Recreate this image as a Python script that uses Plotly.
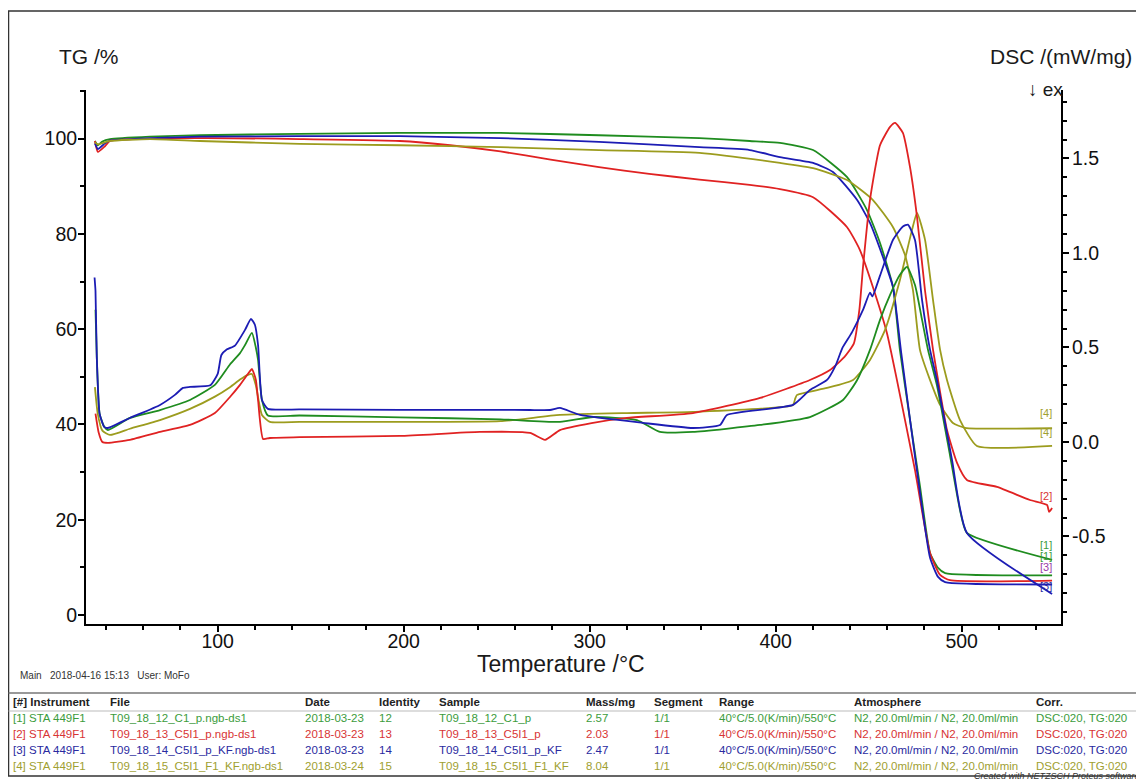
import plotly.graph_objects as go

# ---------------- data ----------------
tg_green_T = [34.0, 35.6, 38.0, 42.1, 63.6, 90.5, 144, 198, 252, 305, 359, 386, 402.3, 420.1, 438.4, 449.1, 456.1, 463.1, 466.8, 472.2, 477.6, 483.0, 487.3, 491.1, 548.6]
tg_green = [99.5, 98.6, 99.4, 99.9, 100.4, 100.7, 101.0, 101.2, 101.2, 100.7, 100.1, 99.5, 99.1, 97.6, 91.9, 85.0, 78.1, 68.8, 55.6, 41.0, 27.0, 13.0, 9.9, 8.8, 8.3]

tg_red_T = [34.0, 35.6, 39.4, 42.1, 90.0, 144, 198, 225, 252, 279, 305, 332, 359, 386, 402.3, 420.1, 438.4, 445.3, 452.3, 459.8, 465.2, 474.9, 483.0, 488.4, 493.7, 548.6]
tg_red = [99.5, 97.2, 98.4, 99.5, 100.1, 99.9, 99.5, 98.6, 97.3, 95.6, 94.0, 92.6, 91.4, 90.3, 89.4, 87.7, 81.4, 76.6, 68.8, 59.2, 49.3, 30.4, 13.0, 8.4, 7.3, 7.2]

tg_blue_T = [34.0, 35.6, 39.4, 42.1, 63.6, 90.5, 144, 198, 252, 305, 359, 386, 402.3, 420.1, 430.8, 443.8, 450.7, 457.7, 463.1, 467.5, 475.0, 483.0, 487.3, 491.1, 548.6]
tg_blue = [99.0, 97.8, 99.0, 99.6, 100.1, 100.4, 100.5, 100.5, 100.1, 99.3, 98.2, 97.6, 96.1, 94.9, 93.0, 87.1, 82.3, 75.1, 68.8, 55.0, 33.0, 12.0, 8.0, 6.9, 6.4]

tg_olive_T = [34.0, 35.6, 42.1, 63.6, 90.5, 144, 198, 252, 305, 359, 402.3, 420.1, 438.4, 452.3, 463.1, 469.5, 473.8, 477.6, 483.0, 488.4, 495.3, 501.8, 548.6]
tg_olive = [99.2, 98.8, 99.5, 99.9, 99.5, 98.9, 98.6, 98.2, 97.6, 97.0, 94.9, 93.8, 91.3, 87.1, 81.4, 75.6, 68.2, 55.6, 49.3, 44.1, 40.3, 39.3, 39.2]

dsc_green_T = [34.3, 35.0, 36.5, 39.0, 41.0, 52.8, 69.0, 85.1, 98.5, 106.6, 112.0, 114.7, 118.4, 120.5, 121.7, 123.8, 127.0, 144, 198, 252, 284.0, 301.8, 325.4, 337.8, 355.5, 391.6, 418.4, 436.2, 443.8, 450.7, 456.1, 461.5, 466.8, 470.6, 474.9, 478.7, 481.9, 486.7, 493.7, 499.1, 502.8, 548.6]
dsc_green = [0.70, 0.45, 0.15, 0.08, 0.063, 0.127, 0.169, 0.222, 0.302, 0.410, 0.470, 0.513, 0.577, 0.500, 0.434, 0.222, 0.140, 0.140, 0.130, 0.120, 0.106, 0.132, 0.116, 0.053, 0.053, 0.090, 0.132, 0.222, 0.328, 0.487, 0.646, 0.778, 0.884, 0.926, 0.830, 0.646, 0.487, 0.300, -0.069, -0.360, -0.481, -0.624]

dsc_red_T = [34.3, 36.0, 38.0, 41.0, 52.8, 69.0, 85.1, 98.5, 106.6, 112.0, 117.0, 118.4, 120.5, 121.7, 124.4, 128.0, 144, 198, 241, 267.9, 276.0, 284.0, 301.0, 320.0, 355.5, 391.6, 418.4, 429.2, 437.0, 442.0, 445.0, 447.0, 450.7, 456.1, 461.5, 464.2, 468.4, 472.2, 476.0, 480.3, 484.6, 487.3, 492.1, 497.5, 502.8, 519.0, 536.7, 545.9, 547.0, 548.6]
dsc_red = [0.15, 0.05, 0.0, -0.005, 0.011, 0.053, 0.090, 0.153, 0.238, 0.302, 0.370, 0.386, 0.330, 0.222, 0.016, 0.021, 0.026, 0.032, 0.053, 0.048, 0.011, 0.063, 0.100, 0.127, 0.153, 0.233, 0.328, 0.381, 0.450, 0.520, 0.700, 0.930, 1.280, 1.570, 1.667, 1.688, 1.635, 1.455, 1.190, 0.800, 0.487, 0.328, 0.063, -0.111, -0.201, -0.238, -0.307, -0.333, -0.370, -0.349]

dsc_blue_T = [33.8, 34.3, 35.0, 36.5, 39.0, 41.0, 52.8, 69.0, 77.0, 81.3, 85.1, 96.0, 100.0, 102.0, 105.0, 109.3, 114.7, 117.9, 120.0, 121.7, 123.8, 127.0, 144, 198, 252, 267.9, 278.7, 284.0, 294.8, 328.6, 355.5, 370.1, 373.8, 409.3, 418.4, 427.6, 432.0, 436.0, 441.0, 447.0, 450.7, 452.0, 456.1, 463.1, 468.4, 471.1, 474.9, 478.7, 483.0, 486.7, 494.8, 502.8, 548.6]
dsc_blue = [0.87, 0.80, 0.45, 0.15, 0.08, 0.074, 0.127, 0.196, 0.249, 0.286, 0.291, 0.300, 0.360, 0.460, 0.490, 0.510, 0.593, 0.651, 0.620, 0.513, 0.222, 0.175, 0.172, 0.170, 0.170, 0.169, 0.169, 0.180, 0.143, 0.101, 0.074, 0.090, 0.143, 0.196, 0.275, 0.328, 0.400, 0.500, 0.580, 0.700, 0.790, 0.770, 0.880, 1.070, 1.140, 1.150, 1.069, 0.751, 0.487, 0.328, -0.095, -0.481, -0.804]

dsc_olive_T = [34.0, 35.5, 38.0, 42.1, 52.8, 69.0, 85.1, 98.5, 106.6, 112.0, 116.0, 118.4, 120.5, 123.8, 128.1, 144, 198, 252, 284.0, 320.0, 355.5, 409.3, 410.5, 411.5, 427.6, 441.6, 450.7, 458.8, 466.8, 473.3, 476.0, 480.3, 484.6, 488.4, 492.1, 499.1, 508.2, 548.6]
dsc_olive = [0.29, 0.15, 0.06, 0.037, 0.07, 0.116, 0.175, 0.240, 0.290, 0.330, 0.354, 0.360, 0.300, 0.143, 0.106, 0.106, 0.106, 0.110, 0.143, 0.153, 0.159, 0.196, 0.230, 0.249, 0.286, 0.328, 0.434, 0.593, 0.857, 1.122, 1.212, 1.069, 0.751, 0.487, 0.328, 0.116, -0.021, -0.021]

tg_ticks = [0, 20, 40, 60, 80, 100]
dsc_ticks = [-0.5, 0.0, 0.5, 1.0, 1.5]
dsc_tick_text = ["-0.5", "0.0", "0.5", "1.0", "1.5"]
t_ticks = [100, 200, 300, 400, 500]

end_labels = ["[4]", "[4]", "[2]", "[1]", "[1]", "[3]", "[3]"]
end_label_tg = [42.4, 38.5, 24.9, 14.6, 12.3, 10.0, 6.0]

# table contents
tbl_header = ["[#] Instrument", "File", "Date", "Identity", "Sample", "Mass/mg", "Segment", "Range", "Atmosphere", "Corr."]
tbl_instrument = ["[1] STA 449F1", "[2] STA 449F1", "[3] STA 449F1", "[4] STA 449F1"]
tbl_file = ["T09_18_12_C1_p.ngb-ds1", "T09_18_13_C5I1_p.ngb-ds1", "T09_18_14_C5I1_p_KF.ngb-ds1", "T09_18_15_C5I1_F1_KF.ngb-ds1"]
tbl_date = ["2018-03-23", "2018-03-23", "2018-03-23", "2018-03-24"]
tbl_identity = ["12", "13", "14", "15"]
tbl_sample = ["T09_18_12_C1_p", "T09_18_13_C5I1_p", "T09_18_14_C5I1_p_KF", "T09_18_15_C5I1_F1_KF"]
tbl_mass = ["2.57", "2.03", "2.47", "8.04"]
tbl_segment = ["1/1", "1/1", "1/1", "1/1"]
tbl_range = ["40°C/5.0(K/min)/550°C"] * 4
tbl_atmos = ["N2, 20.0ml/min / N2, 20.0ml/min"] * 4
tbl_corr = ["DSC:020, TG:020"] * 4

# ---------------- styling ----------------
GREEN = "#1f8c1f"
RED = "#e02222"
BLUE = "#1c1cb4"
OLIVE = "#9c9c1e"
TXT_GREEN = "#3c9c3c"
TXT_RED = "#d83434"
TXT_BLUE = "#2a2aa0"
TXT_OLIVE = "#a0a030"
FONT = "Liberation Sans, Arial, sans-serif"

PAGE_OFF = 8                      # browser body margin
W, H = 1144 - PAGE_OFF, 782 - PAGE_OFF
L, R, T, B = 86, 1061, 90, 624    # plot area in page pixels


def px(x):
    return (x - L) / (R - L)


def py(y):
    return (B - y) / (B - T)


fig = go.Figure()

series = [
    (tg_green_T, tg_green, GREEN, "y"),
    (tg_red_T, tg_red, RED, "y"),
    (tg_blue_T, tg_blue, BLUE, "y"),
    (tg_olive_T, tg_olive, OLIVE, "y"),
    (dsc_olive_T, dsc_olive, OLIVE, "y2"),
    (dsc_green_T, dsc_green, GREEN, "y2"),
    (dsc_red_T, dsc_red, RED, "y2"),
    (dsc_blue_T, dsc_blue, BLUE, "y2"),
]
for xs, ys, col, ax in series:
    fig.add_trace(go.Scatter(
        x=xs, y=ys, yaxis=ax, mode="lines",
        line=dict(color=col, width=1.8, shape="spline", smoothing=0.5),
        showlegend=False, hoverinfo="skip"))

tick_font = dict(family=FONT, size=19.5, color="#111111")

fig.update_layout(
    width=W, height=H,
    margin=dict(l=L - PAGE_OFF, r=1144 - R, t=T - PAGE_OFF, b=782 - B, pad=0),
    paper_bgcolor="white", plot_bgcolor="white",
    showlegend=False,
    xaxis=dict(
        range=[29.2, 553.4], tickvals=t_ticks, ticks="outside", ticklen=6, tickwidth=1.5,
        tickcolor="black", showline=True, linewidth=2, linecolor="black",
        showgrid=False, zeroline=False, tickfont=tick_font, ticklabelstandoff=-7,
        minor=dict(tick0=0, dtick=20, ticks="outside", ticklen=4, tickwidth=1.5, tickcolor="black", showgrid=False),
    ),
    yaxis=dict(
        range=[-1.89, 110.2], tickvals=tg_ticks, ticks="outside", ticklen=6, tickwidth=1.5,
        tickcolor="black", showline=True, linewidth=2, linecolor="black",
        showgrid=False, zeroline=False, tickfont=tick_font, ticklabelstandoff=-3,
        minor=dict(tick0=0, dtick=10, ticks="outside", ticklen=4, tickwidth=1.5, tickcolor="black", showgrid=False),
    ),
    yaxis2=dict(
        overlaying="y", side="right", range=[-0.963, 1.862],
        tickvals=dsc_ticks, ticktext=dsc_tick_text, ticks="outside", ticklen=6, tickwidth=1.5,
        tickcolor="black", showline=True, linewidth=2, linecolor="black",
        showgrid=False, zeroline=False, tickfont=tick_font, ticklabelstandoff=-1,
        minor=dict(tick0=0, dtick=0.1, ticks="outside", ticklen=4, tickwidth=1.5, tickcolor="black", showgrid=False),
    ),
)

ann = []
# axis titles
ann.append(dict(x=px(57), y=py(57), xref="paper", yref="paper", text="TG /%", showarrow=False,
                xanchor="left", yanchor="middle", font=dict(family=FONT, size=21, color="#1a1a1a")))
ann.append(dict(x=px(1134), y=py(57), xref="paper", yref="paper", text="DSC /(mW/mg)", showarrow=False,
                xanchor="right", yanchor="middle", font=dict(family=FONT, size=21, color="#1a1a1a")))
ann.append(dict(x=px(1026), y=py(89), xref="paper", yref="paper", text="↓ ex", showarrow=False,
                xanchor="left", yanchor="middle", font=dict(family=FONT, size=19, color="#1a1a1a")))
ann.append(dict(x=px(561), y=py(664), xref="paper", yref="paper", text="Temperature /°C", showarrow=False,
                xanchor="center", yanchor="middle", font=dict(family=FONT, size=23, color="#1a1a1a")))
ann.append(dict(x=px(18), y=py(675), xref="paper", yref="paper",
                text="Main   2018-04-16 15:13   User: MoFo", showarrow=False,
                xanchor="left", yanchor="middle", font=dict(family=FONT, size=10, color="#333333")))
ann.append(dict(x=px(1142), y=py(776), xref="paper", yref="paper",
                text="<i>Created with NETZSCH Proteus software</i>", showarrow=False,
                xanchor="right", yanchor="middle", font=dict(family=FONT, size=9, color="#333333")))

# end-of-curve labels
end_cols = [TXT_OLIVE, TXT_OLIVE, TXT_RED, TXT_GREEN, TXT_GREEN, "#9a3aa8", TXT_BLUE]
for lab, v, c in zip(end_labels, end_label_tg, end_cols):
    ann.append(dict(x=545.5, y=v, xref="x", yref="y", text=lab, showarrow=False,
                    xanchor="center", yanchor="middle", font=dict(family=FONT, size=11, color=c)))

# table
col_x = [11, 108, 303, 377, 437, 584, 652, 717, 852, 1034]
ann_rows_y = [718, 734, 750, 766]
for cx, h in zip(col_x, tbl_header):
    ann.append(dict(x=px(cx), y=py(702), xref="paper", yref="paper", text="<b>" + h + "</b>", showarrow=False,
                    xanchor="left", yanchor="middle", font=dict(family=FONT, size=11.5, color="#222222")))
row_cols = [TXT_GREEN, TXT_RED, TXT_BLUE, TXT_OLIVE]
for i in range(4):
    cells = [tbl_instrument[i], tbl_file[i], tbl_date[i], tbl_identity[i], tbl_sample[i],
             tbl_mass[i], tbl_segment[i], tbl_range[i], tbl_atmos[i], tbl_corr[i]]
    for cx, cell in zip(col_x, cells):
        ann.append(dict(x=px(cx), y=py(ann_rows_y[i]), xref="paper", yref="paper", text=cell, showarrow=False,
                        xanchor="left", yanchor="middle", font=dict(family=FONT, size=11.5, color=row_cols[i])))
fig.update_layout(annotations=ann)

shapes = [
    dict(type="rect", xref="paper", yref="paper", x0=px(8.5), x1=px(1143), y0=py(776), y1=py(11),
         line=dict(color="#333333", width=1.5), fillcolor="rgba(0,0,0,0)", layer="below"),
    dict(type="line", xref="paper", yref="paper", x0=px(8.5), x1=px(1143), y0=py(693), y1=py(693),
         line=dict(color="#777777", width=1.5)),
    dict(type="line", xref="paper", yref="paper", x0=px(8.5), x1=px(1143), y0=py(711), y1=py(711),
         line=dict(color="#bbbbbb", width=1)),
]
fig.update_layout(shapes=shapes)

fig.write_html("out.html")
